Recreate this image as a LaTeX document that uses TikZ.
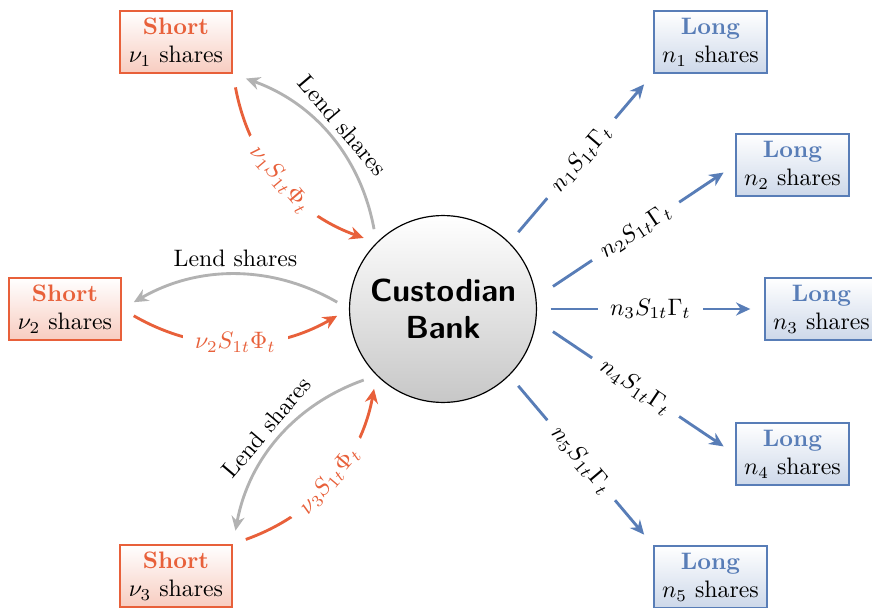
\documentclass[tikz,border=0pt]{standalone}
\usetikzlibrary{arrows.meta}
\definecolor{ora}{RGB}{232,96,58}
\definecolor{blu}{RGB}{88,125,183}
\definecolor{gry}{RGB}{178,178,178}
\begin{document}
\begin{tikzpicture}[x=0.42pt,y=0.42pt,
  shortbox/.style={draw=ora, line width=0.9pt, top color=white, bottom color=ora!32!white,
    minimum width=47pt, minimum height=26pt, align=center, inner sep=2pt},
  longbox/.style={draw=blu, line width=0.9pt, top color=white, bottom color=blu!30!white,
    minimum width=47.5pt, minimum height=26pt, align=center, inner sep=2pt},
  bankc/.style={circle, draw=black, line width=0.5pt, top color=white, bottom color=black!22,
    minimum size=78.5pt, align=center, inner sep=0pt,
    font=\sffamily\bfseries\fontsize{13.4}{15.6}\selectfont},
  flow/.style={line width=1.2pt, -{Stealth[length=6pt,width=5.5pt]}, shorten <=2mm, shorten >=2mm},
  bluearr/.style={flow, draw=blu},
  orarr/.style={flow, draw=ora},
  grarr/.style={flow, draw=gry},
  lab/.style={sloped, fill=white, inner xsep=5pt, inner ysep=1pt},
  lendlab/.style={sloped, above}
]
\useasboundingbox (0,0) rectangle (872,607);

\node[bankc] (bank) at (443,298) {Custodian\\Bank};

\node[shortbox] (s1) at (176,565) {\textcolor{ora}{\textbf{Short}}\\$\nu_1$ shares};
\node[shortbox] (s2) at (65,298) {\textcolor{ora}{\textbf{Short}}\\$\nu_2$ shares};
\node[shortbox] (s3) at (176,31) {\textcolor{ora}{\textbf{Short}}\\$\nu_3$ shares};

\node[longbox] (l1) at (710.5,565) {\textcolor{blu}{\textbf{Long}}\\$n_1$ shares};
\node[longbox] (l2) at (792.5,442) {\textcolor{blu}{\textbf{Long}}\\$n_2$ shares};
\node[longbox] (l3) at (821.5,298) {\textcolor{blu}{\textbf{Long}}\\$n_3$ shares};
\node[longbox] (l4) at (792.5,153) {\textcolor{blu}{\textbf{Long}}\\$n_4$ shares};
\node[longbox] (l5) at (710.5,30) {\textcolor{blu}{\textbf{Long}}\\$n_5$ shares};

\draw[bluearr] (bank.north east) -- node[lab]{$n_1S_{1t}\Gamma_t$} (l1.south west);
\draw[bluearr, shorten <=8.4pt] (bank.7) -- node[lab]{$n_2S_{1t}\Gamma_t$} (l2.west);
\draw[bluearr] (bank.east) -- node[lab]{$n_3S_{1t}\Gamma_t$} (l3.west);
\draw[bluearr, shorten <=8.4pt] (bank.-7) -- node[lab]{$n_4S_{1t}\Gamma_t$} (l4.west);
\draw[bluearr] (bank.south east) -- node[lab]{$n_5S_{1t}\Gamma_t$} (l5.north west);

\draw[orarr] (s1.south east) to[bend right=30] node[lab, text=ora]{$\nu_1S_{1t}\Phi_t$} (bank.north west);
\draw[grarr] (bank.north west) to[bend right=30] node[lendlab]{Lend shares} (s1.south east);
\draw[orarr] (s2.east) to[bend right=30] node[lab, text=ora]{$\nu_2S_{1t}\Phi_t$} (bank.west);
\draw[grarr] (bank.west) to[bend right=30] node[lendlab]{Lend shares} (s2.east);
\draw[orarr] (s3.north east) to[bend right=30] node[lab, text=ora]{$\nu_3S_{1t}\Phi_t$} (bank.south west);
\draw[grarr] (bank.south west) to[bend right=30] node[lendlab]{Lend shares} (s3.north east);
\end{tikzpicture}
\end{document}
